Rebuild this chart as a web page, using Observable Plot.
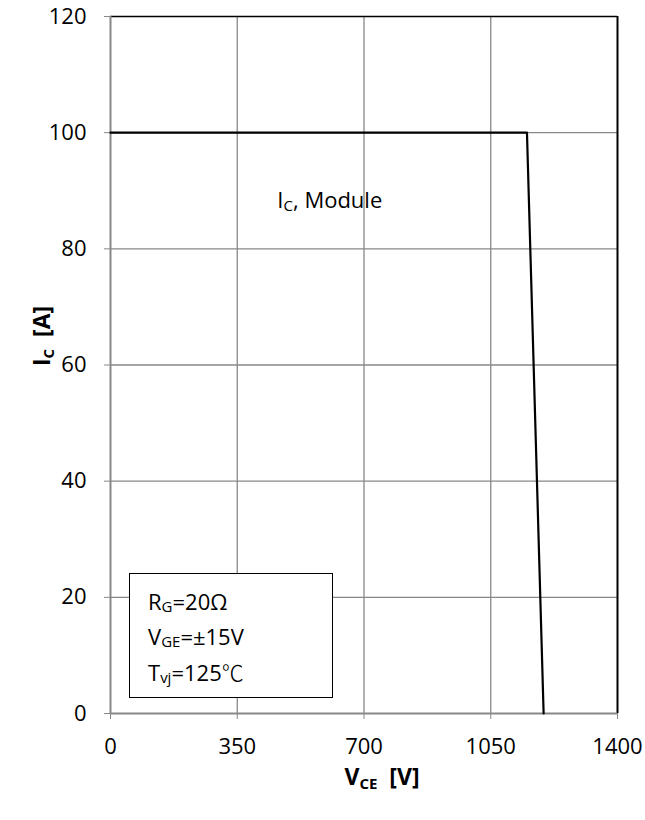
<!DOCTYPE html>
<html><head><meta charset="utf-8">
<script src="https://cdn.jsdelivr.net/npm/d3@7"></script>
<script src="https://cdn.jsdelivr.net/npm/@observablehq/plot@0.6"></script>
<style>
body{margin:0;background:#fff}
#chart{position:relative;width:645px;height:820px;font-family:"Open Sans",sans-serif}
#box{position:absolute;left:129px;top:573px;width:204px;height:125px;border:1.5px solid #000;background:#fff;box-sizing:border-box;padding:11px 0 0 18px;font-size:22px;line-height:32px;color:#000}
#box sub{font-size:15px;vertical-align:baseline;position:relative;top:2px}
#box .cjk{font-family:"Noto Sans CJK SC";font-weight:300}
</style>
</head><body>
<div id="chart"></div>
<script>
const vce = [0, 1150, 1196];
const ic = [100, 100, 0];
const xTicks = [0, 350, 700, 1050, 1400];
const yTicks = [0, 20, 40, 60, 80, 100, 120];
const curve = vce.map((v, i) => ({vce: v, ic: ic[i]}));

const chart = Plot.plot({
  width: 645, height: 820,
  marginLeft: 110, marginRight: 28, marginTop: 16, marginBottom: 107,
  style: {fontFamily: "Open Sans", fontSize: "22px", color: "#000", background: "#fff", overflow: "visible"},
  x: {domain: [0, 1400]},
  y: {domain: [0, 120]},
  marks: [
    Plot.gridX(xTicks.slice(1, -1), {stroke: "#888", strokeOpacity: 1, strokeWidth: 1.3}),
    Plot.gridY(yTicks.slice(1, -1), {stroke: "#888", strokeOpacity: 1, strokeWidth: 1.3}),
    Plot.axisX({ticks: xTicks, tickFormat: d => String(d), tickSize: 6, tickPadding: 19, stroke: "#888", label: null, fontSize: 22}),
    Plot.axisY({ticks: yTicks, tickFormat: d => String(d), tickSize: 6, tickPadding: 18, stroke: "#888", label: null, fontSize: 22}),
    Plot.ruleY([120], {stroke: "#000", strokeWidth: 1.5}),
    Plot.ruleX([1400], {stroke: "#000", strokeWidth: 2}),
    Plot.ruleX([0], {stroke: "#888", strokeWidth: 2}),
    Plot.ruleY([0], {stroke: "#888", strokeWidth: 2}),
    Plot.line(curve, {x: "vce", y: "ic", stroke: "#000", strokeWidth: 2.2})
  ]
});

const svg = d3.select(chart);
const sx = chart.scale("x"), sy = chart.scale("y");

// annotation "IC, Module"
const ann = svg.append("text")
  .attr("x", sx.apply(607)).attr("y", sy.apply(88.3) + 8)
  .attr("text-anchor", "middle").attr("font-size", 22).attr("fill", "#000");
ann.append("tspan").text("I");
ann.append("tspan").attr("font-size", 15).attr("dy", 3).text("C");
ann.append("tspan").attr("dy", -3).text(", Module");

// x axis title
const xt = svg.append("text")
  .attr("x", 382).attr("y", 785).attr("text-anchor", "middle")
  .attr("font-size", 23).attr("font-weight", "bold").attr("fill", "#000");
xt.append("tspan").text("V");
xt.append("tspan").attr("font-size", 15).attr("dy", 4).text("CE");
xt.append("tspan").attr("dy", -4).text("\u00a0\u00a0[V]");

// y axis title
const yt = svg.append("text")
  .attr("transform", "translate(50,336) rotate(-90)").attr("text-anchor", "middle")
  .attr("font-size", 23).attr("font-weight", "bold").attr("fill", "#000");
yt.append("tspan").text("I");
yt.append("tspan").attr("font-size", 15).attr("dy", 4).text("C");
yt.append("tspan").attr("dy", -4).text("\u00a0\u00a0[A]");

const container = document.getElementById("chart");
container.appendChild(chart);
const box = document.createElement("div");
box.id = "box";
box.innerHTML = "R<sub>G</sub>=20Ω<br>V<sub>GE</sub>=±15V<br>T<sub>vj</sub>=125<span class='cjk'>℃</span>";
container.appendChild(box);
</script>
</body></html>
